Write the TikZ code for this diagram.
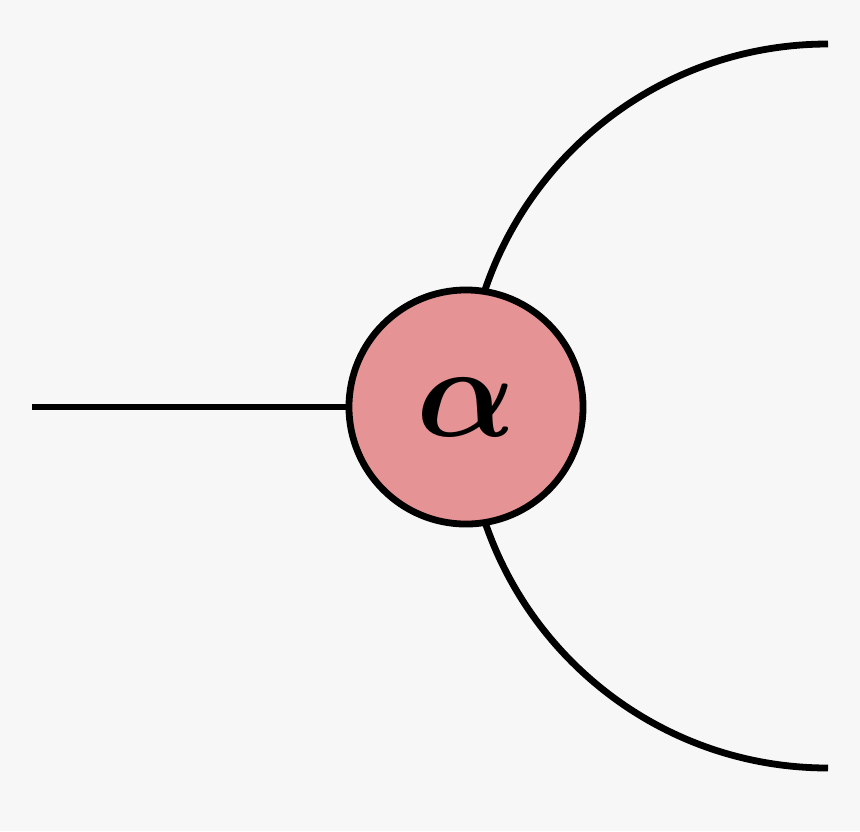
\documentclass[tikz,border=0pt]{standalone}
\usepackage{amsmath,amssymb,bm}
\usepackage{xcolor}
\usepackage{tikz}
\usetikzlibrary{positioning,backgrounds}

\definecolor{bgpaper}{HTML}{F7F7F7}
\definecolor{tensorpink}{HTML}{E59394}

\begin{document}
\begin{tikzpicture}[x=0.025cm, y=-0.025cm, line width=0.17cm,
    tensor/.style={circle, draw=black, fill=tensorpink, inner sep=0pt,
      minimum size=5.85cm}]
  \fill[bgpaper] (0,0) rectangle (860,831);
  \useasboundingbox (0,0) rectangle (860,831);
  % legs
  \coordinate (top) at (828,44);
  \coordinate (bot) at (828,768);
  \coordinate (free) at (32,407);
  \draw (top) arc[start angle=-90, end angle=-270, radius=362];
  \node[tensor] (A) at (466,407) {\scalebox{9.3}{$\bm{\alpha}$}};
  \draw (free) -- (A.west);
\end{tikzpicture}
\end{document}
